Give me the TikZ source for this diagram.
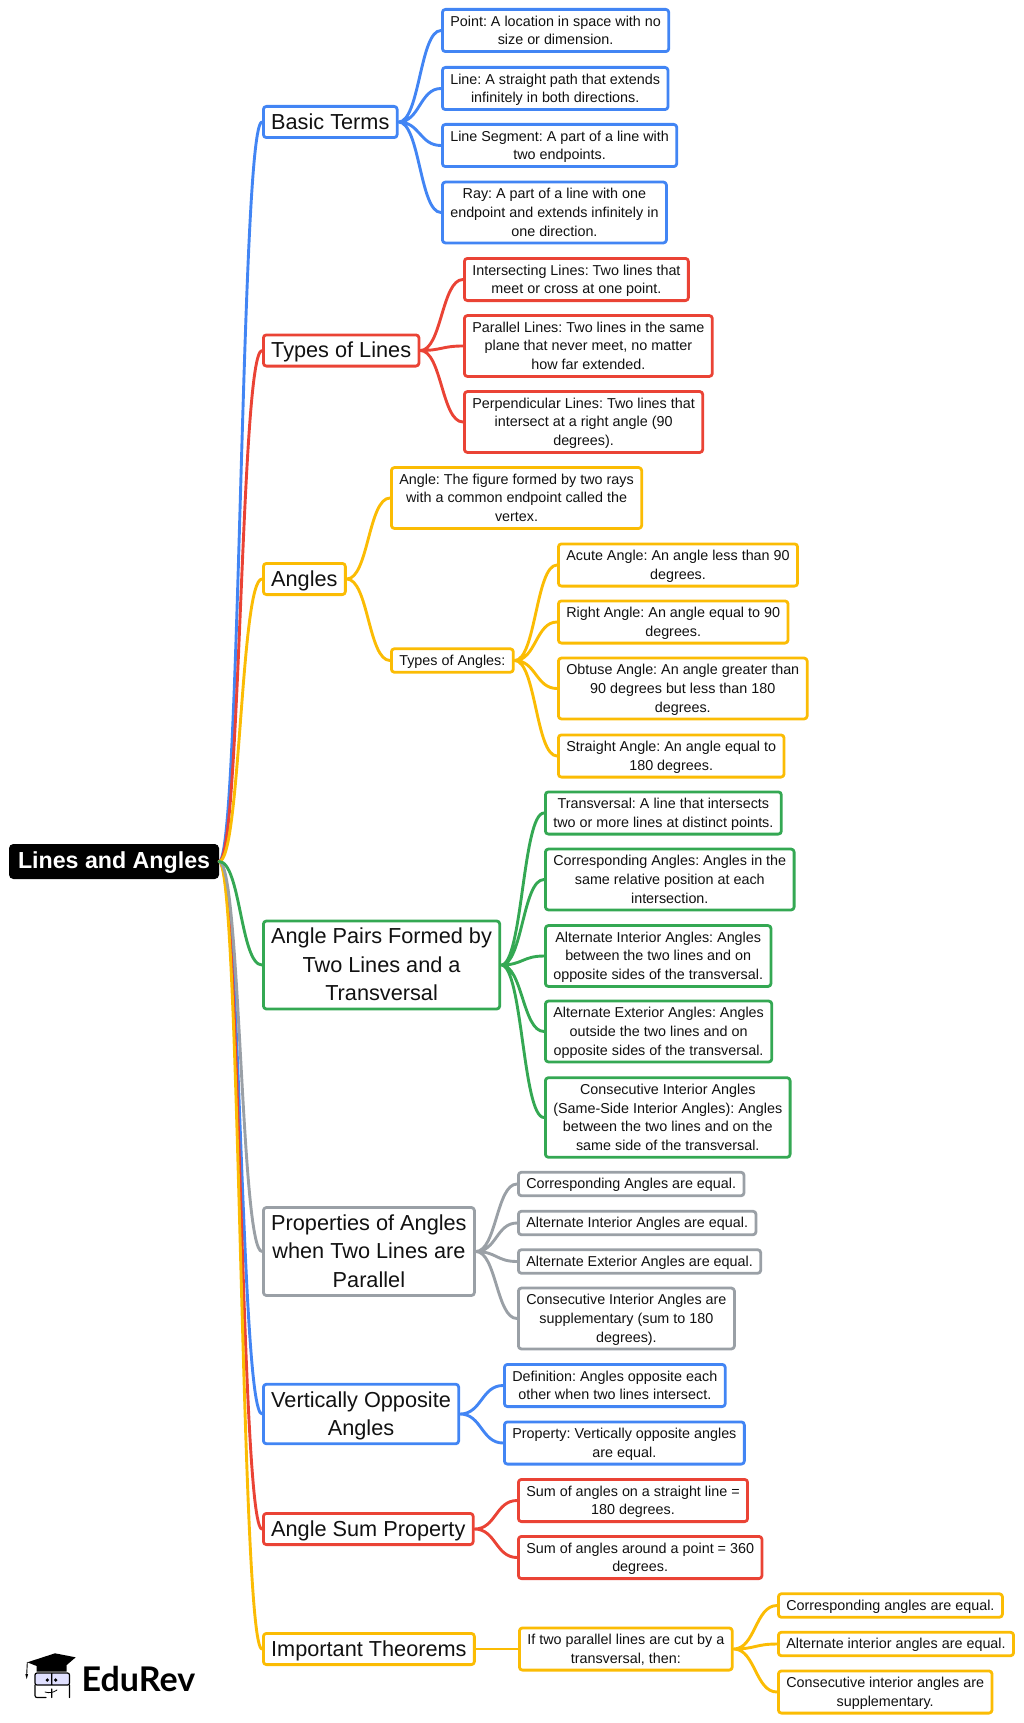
\documentclass[tikz,border=0pt]{standalone}
\usepackage{fontspec}
\setmainfont{Liberation Sans}
\newfontfamily\logofont{Lato}
\usetikzlibrary{calc}
\frenchspacing
\newcommand\mapstrut{\vrule height .76\baselineskip depth .24\baselineskip width 0pt\relax}
\definecolor{mapblue}{HTML}{4285F4}
\definecolor{mapred}{HTML}{EA4335}
\definecolor{mapyellow}{HTML}{FBBC04}
\definecolor{mapgreen}{HTML}{34A853}
\definecolor{mapgray}{HTML}{9AA0A6}
\definecolor{mapink}{HTML}{111111}
\tikzset{
	box/.style={anchor=west,rounded corners=3pt,line width=2.8pt,fill=white,align=center,text=mapink},
	leaf/.style={box,font=\fontsize{14.35}{18.7}\selectfont,inner xsep=7.9pt,inner ysep=2.4pt},
	topic/.style={box,font=\fontsize{21.7}{28.4}\selectfont,inner xsep=7.8pt,inner ysep=1.4pt},
	link/.style={line width=2.9pt,to path={let \p1=(\tikztostart),\p2=(\tikztotarget) in
		.. controls ({(\x1+\x2)/2},\y1) and ({(\x1+\x2)/2},\y2) .. (\tikztotarget)}}
}
\begin{document}
\begin{tikzpicture}[x=1pt,y=-1pt,line join=round,line cap=round]
	\useasboundingbox (0,0) rectangle (1024,1723);
	\node [anchor=west,rounded corners=4pt,fill=black,draw=black,text=white,line width=1pt,inner xsep=8.5pt,inner ysep=3pt,
		font=\fontsize{23.2}{28}\selectfont\bfseries] (root) at (9,861.5) {\mapstrut Lines and Angles};

	\node [topic,draw=mapblue] (basic) at (262,122) {\mapstrut Basic Terms};
	\node [leaf,draw=mapblue] (point) at (441,30.5) {\mapstrut Point: A location in space with no\\size or dimension.\mapstrut};
	\node [leaf,draw=mapblue] (line) at (441,88.5) {\mapstrut Line: A straight path that extends\\infinitely in both directions.\mapstrut};
	\node [leaf,draw=mapblue] (segment) at (441,145.5) {\mapstrut Line Segment: A part of a line with\\two endpoints.\mapstrut};
	\node [leaf,draw=mapblue] (ray) at (441,212.5) {\mapstrut Ray: A part of a line with one\\endpoint and extends infinitely in\\one direction.\mapstrut};

	\node [topic,draw=mapred] (types) at (262,350.5) {\mapstrut Types of Lines};
	\node [leaf,draw=mapred] (intersecting) at (463,279.5) {\mapstrut Intersecting Lines: Two lines that\\meet or cross at one point.\mapstrut};
	\node [leaf,draw=mapred] (parallel) at (463,346) {\mapstrut Parallel Lines: Two lines in the same\\plane that never meet, no matter\\how far extended.\mapstrut};
	\node [leaf,draw=mapred] (perpendicular) at (463,422) {\mapstrut Perpendicular Lines: Two lines that\\intersect at a right angle (90\\degrees).\mapstrut};

	\node [topic,draw=mapyellow] (angles) at (262,579) {\mapstrut Angles};
	\node [leaf,draw=mapyellow] (angle) at (390,498) {\mapstrut Angle: The figure formed by two rays\\with a common endpoint called the\\vertex.\mapstrut};
	\node [leaf,draw=mapyellow] (kinds) at (390,660.5) {\mapstrut Types of Angles:};
	\node [leaf,draw=mapyellow] (acute) at (557,565) {\mapstrut Acute Angle: An angle less than 90\\degrees.\mapstrut};
	\node [leaf,draw=mapyellow] (rightang) at (557,622) {\mapstrut Right Angle: An angle equal to 90\\degrees.\mapstrut};
	\node [leaf,draw=mapyellow] (obtuse) at (557,688.5) {\mapstrut Obtuse Angle: An angle greater than\\90 degrees but less than 180\\degrees.\mapstrut};
	\node [leaf,draw=mapyellow] (straight) at (557,756) {\mapstrut Straight Angle: An angle equal to\\180 degrees.\mapstrut};

	\node [topic,draw=mapgreen] (pairs) at (262,965) {\mapstrut Angle Pairs Formed by\\Two Lines and a\\Transversal\mapstrut};
	\node [leaf,draw=mapgreen] (transversal) at (544,813) {\mapstrut Transversal: A line that intersects\\two or more lines at distinct points.\mapstrut};
	\node [leaf,draw=mapgreen] (corresponding) at (544,879.5) {\mapstrut Corresponding Angles: Angles in the\\same relative position at each\\intersection.\mapstrut};
	\node [leaf,draw=mapgreen] (altint) at (544,956) {\mapstrut Alternate Interior Angles: Angles\\between the two lines and on\\opposite sides of the transversal.\mapstrut};
	\node [leaf,draw=mapgreen] (altext) at (544,1031.5) {\mapstrut Alternate Exterior Angles: Angles\\outside the two lines and on\\opposite sides of the transversal.\mapstrut};
	\node [leaf,draw=mapgreen] (consec) at (544,1117.5) {\mapstrut Consecutive Interior Angles\\(Same-Side Interior Angles): Angles\\between the two lines and on the\\same side of the transversal.\mapstrut};

	\node [topic,draw=mapgray] (props) at (262,1251.5) {\mapstrut Properties of Angles\\when Two Lines are\\Parallel\mapstrut};
	\node [leaf,draw=mapgray] (propcorr) at (517,1184) {\mapstrut Corresponding Angles are equal.};
	\node [leaf,draw=mapgray] (propint) at (517,1223) {\mapstrut Alternate Interior Angles are equal.};
	\node [leaf,draw=mapgray] (propext) at (517,1261.5) {\mapstrut Alternate Exterior Angles are equal.};
	\node [leaf,draw=mapgray] (propcons) at (517,1318.5) {\mapstrut Consecutive Interior Angles are\\supplementary (sum to 180\\degrees).\mapstrut};

	\node [topic,draw=mapblue] (vertical) at (262,1414) {\mapstrut Vertically Opposite\\Angles\mapstrut};
	\node [leaf,draw=mapblue] (definition) at (503,1385.5) {\mapstrut Definition: Angles opposite each\\other when two lines intersect.\mapstrut};
	\node [leaf,draw=mapblue] (property) at (503,1443) {\mapstrut Property: Vertically opposite angles\\are equal.\mapstrut};

	\node [topic,draw=mapred] (sum) at (262,1529) {\mapstrut Angle Sum Property};
	\node [leaf,draw=mapred] (sumline) at (517,1500.5) {\mapstrut Sum of angles on a straight line =\\180 degrees.\mapstrut};
	\node [leaf,draw=mapred] (sumpoint) at (517,1557.5) {\mapstrut Sum of angles around a point = 360\\degrees.\mapstrut};

	\node [topic,draw=mapyellow] (theorems) at (262,1649) {\mapstrut Important Theorems};
	\node [leaf,draw=mapyellow] (cut) at (518,1649) {\mapstrut If two parallel lines are cut by a\\transversal, then:\mapstrut};
	\node [leaf,draw=mapyellow] (thmcorr) at (777,1605.5) {\mapstrut Corresponding angles are equal.};
	\node [leaf,draw=mapyellow] (thmalt) at (777,1644) {\mapstrut Alternate interior angles are equal.};
	\node [leaf,draw=mapyellow] (thmcons) at (777,1692) {\mapstrut Consecutive interior angles are\\supplementary.\mapstrut};

	\draw [link,mapblue] (root.east) to (basic.west) (root.east) to (vertical.west);
	\draw [link,mapred] (root.east) to (types.west) (root.east) to (sum.west);
	\draw [link,mapyellow] (root.east) to (angles.west) (root.east) to (theorems.west);
	\draw [link,mapgray] (root.east) to (props.west);
	\draw [link,mapgreen] (root.east) to (pairs.west);

	\draw [link,mapblue] (basic.east) to (point.west) (basic.east) to (line.west) (basic.east) to (segment.west) (basic.east) to (ray.west);
	\draw [link,mapred] (types.east) to (intersecting.west) (types.east) to (parallel.west) (types.east) to (perpendicular.west);
	\draw [link,mapyellow] (angles.east) to (angle.west) (angles.east) to (kinds.west);
	\draw [link,mapyellow] (kinds.east) to (acute.west) (kinds.east) to (rightang.west) (kinds.east) to (obtuse.west) (kinds.east) to (straight.west);
	\draw [link,mapgreen] (pairs.east) to (transversal.west) (pairs.east) to (corresponding.west) (pairs.east) to (altint.west) (pairs.east) to (altext.west) (pairs.east) to (consec.west);
	\draw [link,mapgray] (props.east) to (propcorr.west) (props.east) to (propint.west) (props.east) to (propext.west) (props.east) to (propcons.west);
	\draw [link,mapblue] (vertical.east) to (definition.west) (vertical.east) to (property.west);
	\draw [link,mapred] (sum.east) to (sumline.west) (sum.east) to (sumpoint.west);
	\draw [link,mapyellow] (theorems.east) to (cut.west);
	\draw [link,mapyellow] (cut.east) to (thmcorr.west) (cut.east) to (thmalt.west) (cut.east) to (thmcons.west);

	\node [anchor=base west,inner sep=0pt,text=black,font=\fontsize{34}{34}\logofont\bfseries] (edurev) at (81.5,1691) {EduRev};
	\fill [blue!12,rounded corners=2pt] (35,1673) rectangle (69.5,1685);
	\draw [black,line width=1.2pt,rounded corners=2pt] (35,1673) rectangle (69.5,1685) (51.7,1673)--(51.7,1685);
	\draw [black,line width=1.2pt,rounded corners=2pt] (35,1685)--(35,1697.5)--(46,1697.5) (69.5,1685)--(69.5,1697.5) (51.7,1689)--(51.7,1697.5);
	\draw [black,line width=.8pt] (45,1692) to [bend right=25] (57,1690);
	\fill [black] (47.3,1680) circle (1.8pt) (55.7,1680) circle (1.8pt);
	\fill [black] (27.3,1662.3)--(55,1653.3)--(75.7,1657.3)--(66.7,1665)--(66.7,1671.5)--(36.7,1671.5)--(36.7,1666)--cycle;
	\draw [black,line width=.9pt] (27.3,1662.3)--(26.7,1675);
	\fill [black] (25.3,1674)--(28.1,1674)--(26.7,1679)--cycle;
\end{tikzpicture}
\end{document}
